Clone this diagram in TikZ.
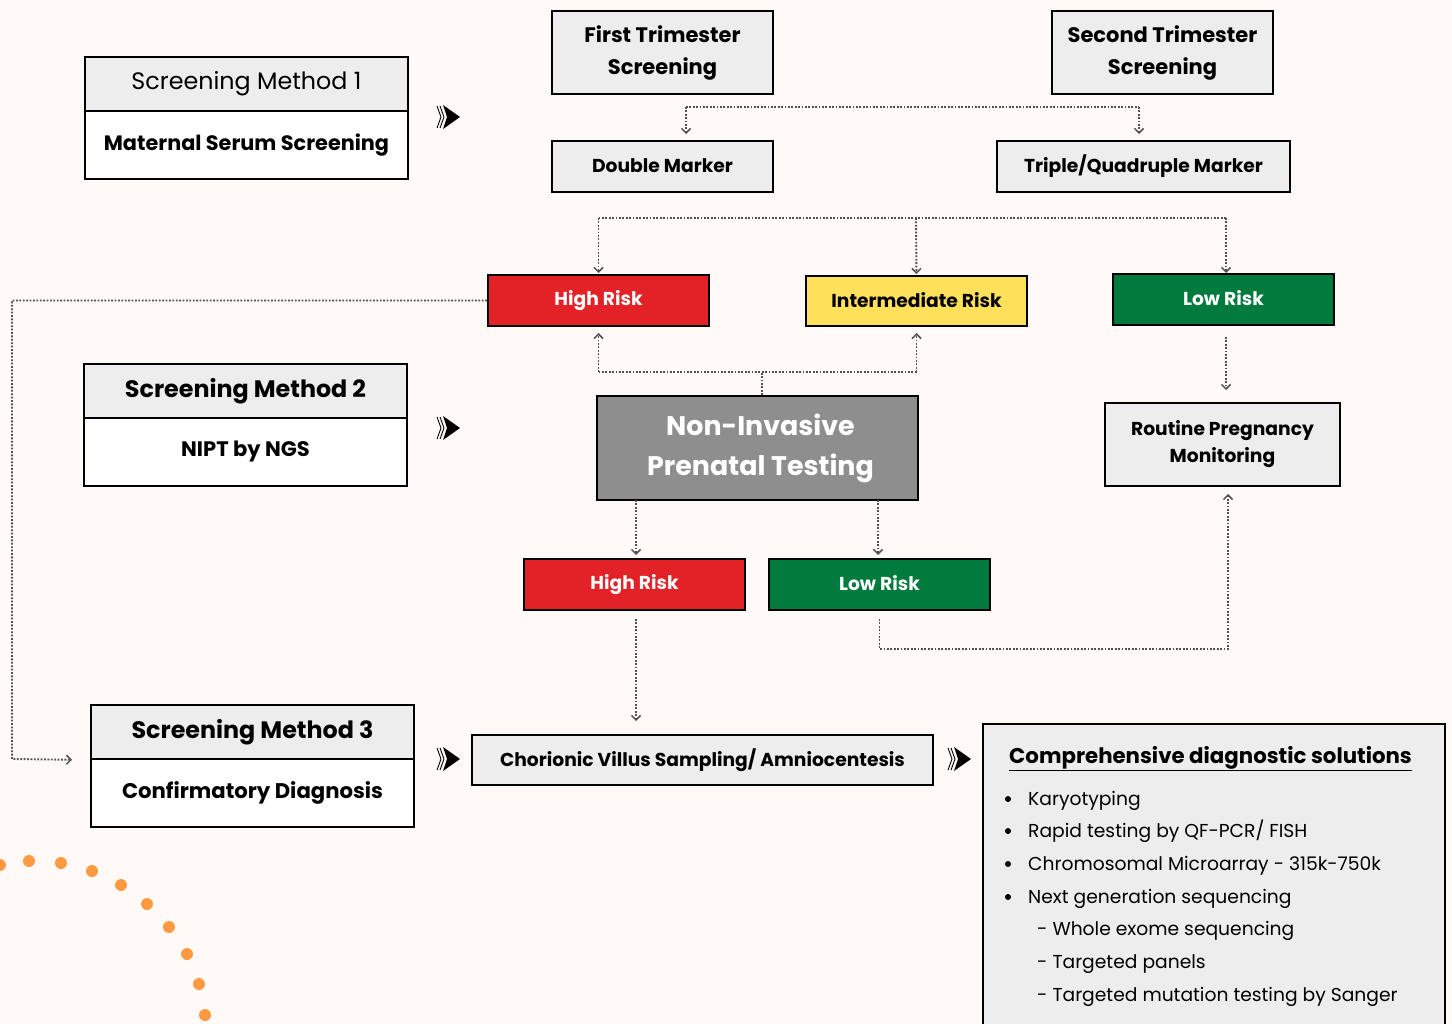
\documentclass[tikz,border=0pt]{standalone}
\usepackage{fontspec}
\setmainfont{Poppins}
\usetikzlibrary{arrows.meta}
\definecolor{bgc}{HTML}{FFFAF8}
\definecolor{hdr}{HTML}{EDEDED}
\definecolor{riskred}{HTML}{E32227}
\definecolor{riskyel}{HTML}{FFE05B}
\definecolor{riskgrn}{HTML}{007A3D}
\definecolor{niptgray}{HTML}{8E8E8E}
\definecolor{dotor}{HTML}{FF9A40}
\definecolor{conng}{HTML}{505050}
\begin{document}
\begin{tikzpicture}[x=1pt,y=-1pt,
  box/.style={draw=black, line width=2pt, inner sep=0pt, align=center, text=black},
  fs17/.style={font=\fontsize{18.7}{27}\selectfont\bfseries},
  fs20/.style={font=\fontsize{21}{32}\selectfont\bfseries},
  conn/.style={draw=conng, line width=1.9pt, dash pattern=on 1.8pt off 1.6pt},
  tip/.style={-{Straight Barb[length=4.5pt,width=9pt,line width=1.5pt]}},
  bigarr/.pic={
    \fill[black] (-6,-12) -- (11,0) -- (-6,12) -- (-2,0) -- cycle;
    \draw[black,line width=0.9pt] (-12,-11) -- (-8,0) -- (-12,11);
    \draw[black,line width=0.9pt] (-9,-11) -- (-5,0) -- (-9,11);
  },
  item/.style={anchor=base west, inner sep=0pt, font=\fontsize{18.7}{20}\selectfont},
  bul/.style={circle, fill=black, inner sep=0pt, minimum size=6pt}
]
\useasboundingbox (0,0) rectangle (1452,1024);
\fill[bgc] (0,0) rectangle (1452,1024);

% orange dots
\foreach \px/\py in {0/865,29/861,61/863,92/871,121/885,147/904,169/927,187/954,199/984,205/1015}
  \fill[dotor] (\px,\py) circle (6);

% Screening method boxes
\node[box, fill=hdr, minimum width=323, minimum height=54, font=\fontsize{23.8}{24}\selectfont] (sm1h) at (246.5,84) {Screening Method 1};
\node[box, fill=white, minimum width=323, minimum height=68, font=\fontsize{20.8}{24}\selectfont\bfseries] (sm1b) at (246.5,145) {Maternal Serum Screening};
\node[box, fill=hdr, minimum width=323, minimum height=54, font=\fontsize{23.8}{24}\selectfont\bfseries] (sm2h) at (245.5,391) {Screening Method 2};
\node[box, fill=white, minimum width=323, minimum height=68, font=\fontsize{21}{24}\selectfont\bfseries] (sm2b) at (245.5,452) {NIPT by NGS};
\node[box, fill=hdr, minimum width=323, minimum height=54, font=\fontsize{23.8}{24}\selectfont\bfseries] (sm3h) at (252.5,732) {Screening Method 3};
\node[box, fill=white, minimum width=323, minimum height=68, font=\fontsize{21.2}{24}\selectfont\bfseries] (sm3b) at (252.5,793) {Confirmatory Diagnosis};

\pic at (449,117) {bigarr};
\pic at (449,428) {bigarr};
\pic at (449,759) {bigarr};
\pic at (960,759) {bigarr};

% trimester boxes
\node[box, fill=hdr, minimum width=221, minimum height=83, fs20] (ft) at (662.5,52.5) {First Trimester\\Screening};
\node[box, fill=hdr, minimum width=221, minimum height=83, fs20] (st) at (1162.5,52.5) {Second Trimester\\Screening};
\node[box, fill=hdr, minimum width=221, minimum height=51, fs17] (dm) at (662.5,166.5) {\raisebox{1.5pt}{Double Marker}};
\node[box, fill=hdr, minimum width=293, minimum height=51, fs17] (tq) at (1143.5,166.5) {\raisebox{1.5pt}{Triple/Quadruple Marker}};

% risk boxes
\node[box, fill=riskred, text=white, minimum width=221, minimum height=51, fs17] (hr1) at (598.5,300.5) {\raisebox{3pt}{High Risk}};
\node[box, fill=riskyel, minimum width=221, minimum height=50, fs17] (ir) at (916.5,301) {\raisebox{2pt}{Intermediate Risk}};
\node[box, fill=riskgrn, text=white, minimum width=221, minimum height=51, fs17] (lr1) at (1223.5,299.5) {\raisebox{3pt}{Low Risk}};

\node[box, fill=niptgray, text=white, minimum width=321, minimum height=104, font=\fontsize{26.9}{40}\selectfont\bfseries] (nipt) at (757.5,448) {\hspace*{6pt}Non-Invasive\\\hspace*{6pt}Prenatal Testing};
\node[box, fill=hdr, minimum width=235, minimum height=83, font=\fontsize{18.7}{27}\selectfont\bfseries] (rpm) at (1222.5,444.5) {Routine Pregnancy\\Monitoring};

\node[box, fill=riskred, text=white, minimum width=221, minimum height=51, fs17] (hr2) at (634.5,584.5) {\raisebox{3pt}{High Risk}};
\node[box, fill=riskgrn, text=white, minimum width=221, minimum height=51, fs17] (lr2) at (879.5,584.5) {\raisebox{3pt}{Low Risk}};

\node[box, fill=hdr, minimum width=461, minimum height=50, fs17] (cvs) at (702.5,760) {Chorionic Villus Sampling/ Amniocentesis};

\node[box, fill=hdr, minimum width=462, minimum height=316] (comp) at (1214,882) {};
\node[anchor=base west, inner sep=0pt, font=\fontsize{21.3}{24}\selectfont\bfseries] (ctitle) at (1009,763) {\underline{Comprehensive diagnostic solutions}};
\foreach \yy/\txt [count=\i] in {805/{Karyotyping},837/{Rapid testing by QF-PCR/ FISH},870/{Chromosomal Microarray - 315k-750k},903/{Next generation sequencing}}{
  \node[bul] (b\i) at (1008,\yy-6) {};
  \node[item] (it\i) at (1028,\yy) {\txt};
}
\node[item] (sub1) at (1037,935) {- Whole exome sequencing};
\node[item] (sub2) at (1037,968) {- Targeted panels};
\node[item] (sub3) at (1037,1001) {- Targeted mutation testing by Sanger};

% connectors
\coordinate (c1a) at (686,107);
\coordinate (c1b) at (1139,107);
\draw[conn] (c1a) -- (c1b);
\draw[conn,tip,shorten >=6pt] (c1a) -- (c1a |- dm.north);
\draw[conn,tip,shorten >=6pt] (c1b) -- (c1b |- tq.north);

\coordinate (c2) at (916,218);
\draw[conn] (hr1.north |- c2) -- (1226,218);
\draw[conn,tip,shorten >=1pt] (hr1.north |- c2) -- (hr1.north);
\draw[conn,tip,shorten >=1pt] (c2) -- (ir.north);
\draw[conn,tip,shorten >=1pt] (1226,218) -- (1226,274);

\coordinate (lx) at (12,759);
\draw[conn,tip,shorten >=18pt] (hr1.west) -| (lx) -- (sm3h.south west);

\coordinate (c3) at (762,372);
\draw[conn] (c3 |- nipt.north) -- (c3);
\draw[conn] (hr1.south |- c3) -- (ir.south |- c3);
\draw[conn,tip,shorten >=6pt] (hr1.south |- c3) -- (hr1.south);
\draw[conn,tip,shorten >=6pt] (ir.south |- c3) -- (ir.south);

\draw[conn,tip,shorten <=12pt,shorten >=12pt] (1226,325) -- (rpm.north -| 1226,325);
\draw[conn,tip,shorten >=3pt] (636,500) -- (hr2.north -| 636,0);
\draw[conn,tip,shorten >=3pt] (878,500) -- (lr2.north -| 878,0);
\draw[conn,tip,shorten <=8pt,shorten >=13pt] (hr2.south -| 636,0) -- (cvs.north -| 636,0);
\coordinate (c4) at (1228,649);
\draw[conn,tip,shorten <=8pt,shorten >=7pt] (lr2.south) -- (lr2.south |- c4) -- (c4) -- (rpm.south -| c4);
\end{tikzpicture}
\end{document}
